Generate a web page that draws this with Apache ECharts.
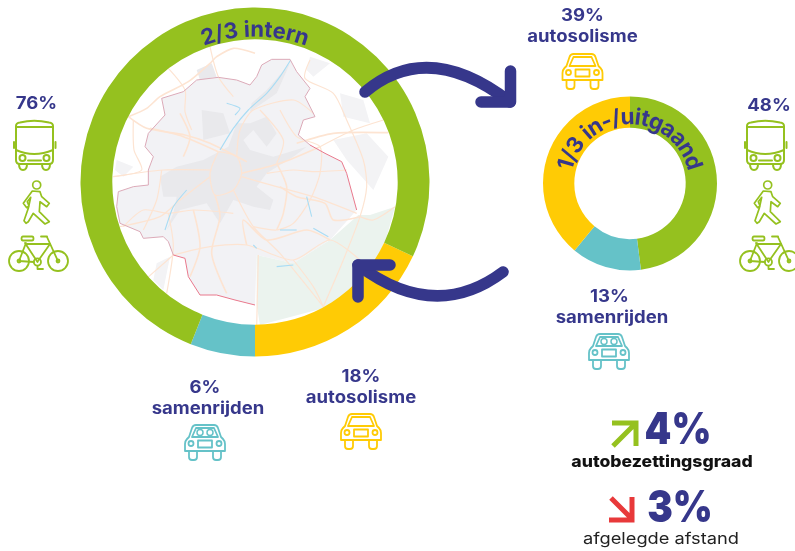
<!DOCTYPE html>
<html><head><meta charset="utf-8">
<style>html,body{margin:0;padding:0;background:#fff}#c{width:795px;height:551px}</style>
<script src="https://cdn.jsdelivr.net/npm/echarts@6/dist/echarts.min.js"></script>
</head><body><div id="c"></div>
<script>
// ---- data
const modes = ['autosolisme','samenrijden','actief'];
const internValues = [18, 6, 76];
const transitModes = ['actief','samenrijden','autosolisme'];
const transitValues = [48, 13, 39];
const NAVY='#36378b', GREEN='#95c11f', YELLOW='#ffcb05', TEAL='#65c2c8', RED='#e8393a';
const FONT='Inter, "Noto Sans", sans-serif';

// ---- backdrop map, in a 3x sketch grid
const mapRegion=[[630,178],[575,178],[545,195],[530,230],[510,255],[470,240],[415,232],[350,240],[310,275],[245,295],[255,345],[205,400],[195,440],[220,470],[205,510],[205,555],[160,560],[115,575],[110,620],[120,670],[180,695],[190,715],[250,710],[265,725],[280,765],[315,775],[325,830],[360,885],[410,885],[465,900],[525,915],[530,765],[640,790],[750,720],[830,630],[800,520],[785,485],[735,460],[690,435],[655,405],[670,360],[705,350],[675,290],[690,265],[650,215]];
const mapBorderSoft=[[530,230],[510,255],[470,240],[415,232],[350,240],[310,275],[245,295],[255,345],[205,400],[195,440],[220,470],[205,510],[205,555],[160,560],[115,575],[110,620],[120,670],[180,695],[190,715],[250,710],[265,725],[280,765]];
const mapBorderSoft2=[[530,230],[545,195],[575,178],[630,178],[650,215],[690,265],[675,290],[705,350],[670,360],[655,405],[690,435]];
const mapBorderRed=[[690,435],[735,460],[785,485],[800,520],[830,630]];
const mapBorderRed2=[[280,765],[315,775],[325,830],[360,885],[410,885],[465,900],[525,915]];
const mapForest=[[530,765],[640,790],[750,720],[835,645],[870,645],[945,620],[920,710],[880,800],[820,880],[730,925],[540,975],[530,915]];
const mapUrban=[
 [[470,370],[445,440],[370,480],[290,500],[240,530],[250,590],[290,590],[280,640],[260,690],[300,630],[380,610],[420,670],[460,600],[520,620],[570,630],[580,600],[530,560],[560,520],[640,470],[680,440],[580,470],[510,450],[490,420],[520,390],[560,440],[590,400],[560,350],[510,370]],
 [[515,310],[560,270],[630,190],[590,280],[510,335]],
 [[365,330],[430,340],[450,400],[370,420]],
 [[350,210],[395,190],[410,230],[360,240]]
];
const mapSuburbs=[
 [[690,170],[750,190],[700,230],[680,210]],
 [[780,280],[850,300],[870,370],[790,350]],
 [[760,420],[860,400],[925,470],[880,570],[800,480]],
 [[230,790],[270,770],[250,870],[220,840]],
 [[110,480],[160,500],[130,530],[105,510]]
];
const mapRoads=[
 [[525,160],[460,145],[410,170],[390,190],[325,245],[240,290],[200,325],[145,350]],
 [[390,140],[415,230],[460,290]],
 [[265,205],[315,270],[315,335],[335,390]],
 [[145,350],[200,385],[315,405],[390,430],[500,485]],
 [[160,360],[162,450],[185,510],[100,530]],
 [[415,455],[470,470],[485,520],[460,570],[405,585],[390,520],[415,455]],
 [[485,520],[600,490],[720,440]],
 [[485,530],[590,560],[700,590],[830,640]],
 [[460,570],[520,680],[600,760],[730,920]],
 [[405,585],[420,650],[395,760],[440,880]],
 [[390,530],[300,600],[240,650],[120,680]],
 [[395,510],[250,510],[100,530]],
 [[415,455],[310,410],[210,385]],
 [[470,470],[480,390],[520,330],[640,300],[700,340]],
 [[690,180],[675,235],[760,280],[800,360],[850,480],[860,560],[840,650],[790,780],[730,920]],
 [[650,430],[760,400],[925,398]],
 [[720,440],[820,390],[910,360]],
 [[840,650],[880,660],[945,620]],
 [[840,650],[760,660],[735,610],[650,590],[600,560]],
 [[600,330],[650,410],[720,440],[720,520],[690,600],[640,670],[590,690],[520,680]],
 [[280,765],[390,740],[500,735],[640,780],[750,720],[840,780]],
 [[500,735],[490,660],[560,720],[680,690],[750,720]],
 [[535,765],[530,980]],
 [[265,640],[280,740],[260,880]],
 [[340,630],[360,740],[330,830]],
 [[200,835],[280,765]],
 [[130,680],[190,630],[265,640],[340,630],[460,640]],
 [[590,490],[620,560],[610,640],[590,690]],
 [[800,510],[700,515],[640,510],[560,520]],
 [[640,780],[700,860],[730,920]],
 [[310,470],[330,410],[300,340]],
 [[245,510],[230,600],[190,690]],
 [[540,330],[610,420],[590,490]]
];
const mapWater=[
 [[632,180],[600,230],[560,280],[505,330],[460,385],[420,450]],
 [[320,570],[280,620],[255,690]],
 [[440,310],[480,325],[465,345]],
 [[680,590],[695,650]],
 [[600,690],[650,690]],
 [[700,685],[745,710]],
 [[520,735],[530,745]],
 [[590,800],[640,795]]
];

// ---- chart
function z(p){return [80+p[0]/3,p[1]/3];}
const g=[];
function poly(pts,fill,zz){g.push({type:'polygon',z:zz||1,silent:true,shape:{points:pts.map(z)},style:{fill}});}
function line(pts,stroke,w,smooth,zz){g.push({type:'polyline',z:zz||1,silent:true,shape:{points:pts.map(z),smooth:smooth||0},style:{stroke,lineWidth:w,fill:null}});}
mapSuburbs.forEach(p=>poly(p,'#f3f3f5'));
poly(mapRegion,'#f2f2f5');
poly(mapForest,'#ebf3ee');
mapUrban.forEach(p=>poly(p,'#e9e9ec'));
mapRoads.forEach((p,i)=>line(p,'#fde4d2',i%3==0?1.6:1.2,0.25));
mapWater.forEach(p=>line(p,'#a9dcf4',1.1,0.2));
line(mapBorderSoft,'#dcaab8',1);line(mapBorderSoft2,'#dcaab8',1);
line(mapBorderRed,'#e9788c',1);line(mapBorderRed2,'#e9788c',1);

function T(text,x,y,size,fill,weight,sx){g.push({type:'text',z:20,x,y,scaleX:sx||1,silent:true,style:{text,fill,font:`${weight||700} ${size}px ${FONT}`,align:'center',verticalAlign:'middle'}});}
const shapeNames=new Map();
function P(d,x,y,stroke,w,join,cap){
  if(!shapeNames.has(d)){const n='sk'+shapeNames.size;shapeNames.set(d,n);echarts.graphic.registerShape(n,echarts.graphic.extendPath(d,{}));}
  g.push({type:shapeNames.get(d),z:15,x:x||0,y:y||0,silent:true,style:{stroke,lineWidth:w,fill:'none',lineCap:cap||'round',lineJoin:join||'round'}});
}

// curved ring titles
const mc=document.createElement('canvas').getContext('2d');
function arcText(text,cx,cy,r,size,track,weight){
  const f=`${weight||700} ${size}px ${FONT}`;
  mc.font=f;
  const w=[...text].map(c=>mc.measureText(c).width+track);
  const total=w.reduce((a,b)=>a+b,0);
  let s=-total/2;
  [...text].forEach((c,i)=>{
    const th=(s+w[i]/2)/r; s+=w[i];
    g.push({type:'text',z:20,silent:true,x:cx+r*Math.sin(th),y:cy-r*Math.cos(th),rotation:-th,
      style:{text:c,fill:NAVY,font:f,align:'center',verticalAlign:'middle'}});
  });
}
arcText('2/3 intern',255,182,152,22,0.4);
arcText('1/3 in-/uitgaand',630,183.4,66,22.5,0.3);

// big arrows
P('M365 92Q428 39 510 102',0,0,NAVY,11.5);
P('M510.5 71L510.5 102L481 102',0,0,NAVY,11.5);
P('M503 272Q435 323 358 265',0,0,NAVY,11.5);
P('M358 297L358 265L390 265',0,0,NAVY,11.5);

// icons
const busIcon=['M2 6Q2 3 6 2.5Q20 -1 35 2.5Q39 3 39 6L39 40Q39 44 35 44L6 44Q2 44 2 40Z','M2 7L39 7','M2 30Q20 38 39 30','M14 40.5L27 40.5','M0 22L0 28','M41.5 22L41.5 28','M5 44Q5 50 9 50Q13 50 13 44','M28 44Q28 50 32 50Q36 50 36 44','M11.5 38a3 3 0 1 0 -6 0a3 3 0 1 0 6 0','M35.5 38a3 3 0 1 0 -6 0a3 3 0 1 0 6 0'];
const walkerIcon=['M17.2 9a4 4 0 1 0 -8 0a4 4 0 1 0 8 0','M8.8 15L16.5 15.7L18.2 20.7L25.8 27.3L23.2 30.7L16.5 25.7L15.8 35.7L25.8 45.7L21.5 48L9.8 37.3L4.8 45.7L2.5 47.3L0.5 44.7L4.8 32.3L7.2 21.3L3.8 25.7L5.5 30L3.2 31.7L-0.2 27.3Z'];
const bikeIcon=['M20 30a10 10 0 1 0 -20 0a10 10 0 1 0 20 0','M59 30a10 10 0 1 0 -20 0a10 10 0 1 0 20 0','M11.5 30a1.5 1.5 0 1 0 -3 0a1.5 1.5 0 1 0 3 0','M50.5 30a1.5 1.5 0 1 0 -3 0a1.5 1.5 0 1 0 3 0','M32 31a3.6 3.6 0 1 0 -7.2 0a3.6 3.6 0 1 0 7.2 0','M16 12L28.5 31','M17 12L10 30L25 31','M18 13L41 13L29 30','M38 6L49 30','M32 5.5L38 5.5','M28.5 35L28.5 38L34 38','M14 5.5L23 5.5Q24.5 5.5 24.5 7.5Q24.5 9.5 23 9.5L14 9.5Q12.5 9.5 12.5 7.5Q12.5 5.5 14 5.5Z'];
const carIcon=['M12 1L30 1Q33 1 34 4L37 13L39 15Q41 17 41 20L41 27L1 27L1 20Q1 17 3 15L5 13L8 4Q9 1 12 1Z','M12 4L30 4L34 13L8 13Z','M9.5 19.5a2.5 2.5 0 1 0 -5 0a2.5 2.5 0 1 0 5 0','M37.5 19.5a2.5 2.5 0 1 0 -5 0a2.5 2.5 0 1 0 5 0','M14 16.5L28 16.5L28 23.5L14 23.5Z','M5 27L5 33Q5 36 8 36L10 36Q13 36 13 33L13 27','M29 27L29 33Q29 36 32 36L34 36Q37 36 37 33L37 27'];
const carSeats=['M19 8.5a3 3 0 1 0 -6 0a3 3 0 1 0 6 0','M29 8.5a3 3 0 1 0 -6 0a3 3 0 1 0 6 0'];
function icon(list,x,y,c,w){list.forEach(d=>P(d,x,y,c,w||1.8));}
[0,731].forEach(dx=>{
  icon(busIcon,14+dx,120,GREEN,2);
  icon(walkerIcon,23.5+dx,176,GREEN,1.7);
  icon(bikeIcon,9+dx,231,GREEN,1.8);
});
icon(carIcon,184,424,TEAL);icon(carSeats,184,424,TEAL,1.5);
icon(carIcon,340,413,YELLOW);
icon(carIcon,561.5,53,YELLOW);
icon(carIcon,588,333,TEAL);icon(carSeats,588,333,TEAL,1.5);

// trend arrows
P('M612 423L636 423L636 446M613 446L635 424',0,0,GREEN,5,'miter','butt');
P('M609 520L632 520L632 497M611 498L631 518',0,0,RED,5,'miter','butt');

// texts
const S=1.09;
T('76%',36.5,103.5,17,NAVY,700,S);T('48%',769,105.5,17,NAVY,700,S);
T('39%',582.5,15.5,17,NAVY,700,S);T('autosolisme',582.5,36.5,17,NAVY,700,S);
T('13%',609.5,296.5,17,NAVY,700,S);T('samenrijden',612,317.5,17,NAVY,700,S);
T('6%',205,387.5,17,NAVY,700,S);T('samenrijden',208,408.5,17,NAVY,700,S);
T('18%',361,376.5,17,NAVY,700,S);T('autosolisme',361,397.5,17,NAVY,700,S);
T('4%',678,431,44,NAVY,900,0.87);T('3%',680,509,44,NAVY,900,0.87);
T('autobezettingsgraad',662,462,16,'#111',800,1.1);
T('afgelegde afstand',661,539.5,16,'#222',400,1.14);

function pieSeries(center,radius,start,vals,names,cols){
  return {type:'pie',z:2,center,radius,startAngle:start,clockwise:true,silent:true,animation:false,
    label:{show:false},labelLine:{show:false},emphasis:{disabled:true},minAngle:0,
    data:vals.map((v,i)=>({name:names[i],value:v,itemStyle:{color:cols[i]}}))};
}
const chart=echarts.init(document.getElementById('c'),null,{renderer:'canvas'});
chart.setOption({animation:false,
  series:[
   pieSeries([255,182],[142.7,174.5],-25.2,internValues,modes,[YELLOW,TEAL,GREEN]),
   pieSeries([630,183.4],[55.7,87],90,transitValues,transitModes,[GREEN,TEAL,YELLOW])
  ],
  graphic:{elements:g}
});
</script></body></html>
